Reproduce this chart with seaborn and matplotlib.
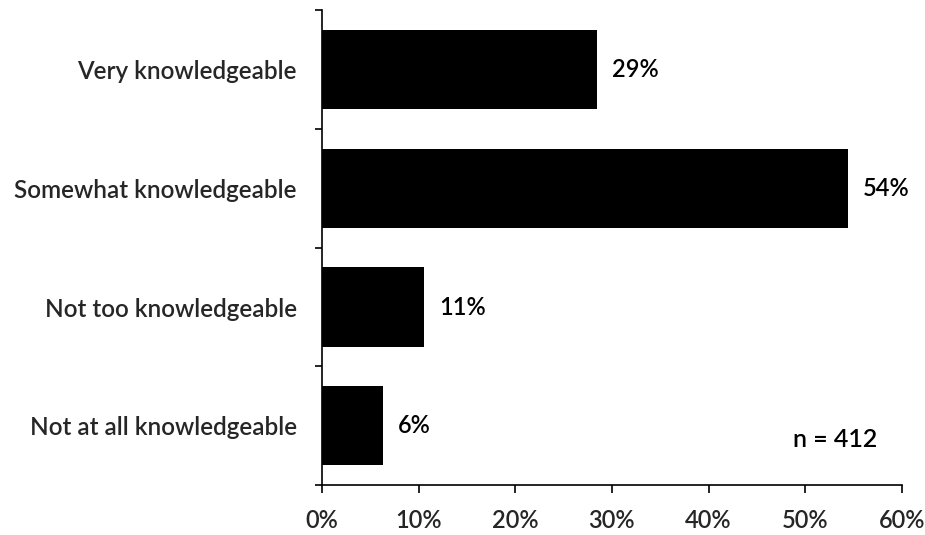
import matplotlib
matplotlib.use("Agg")
import matplotlib.pyplot as plt
import seaborn as sns
import pandas as pd
from matplotlib.ticker import FixedLocator, FuncFormatter

categories = ["Very knowledgeable", "Somewhat knowledgeable", "Not too knowledgeable", "Not at all knowledgeable"]
values = [28.5, 54.4, 10.6, 6.3]
value_labels = ["29%", "54%", "11%", "6%"]
x_ticks = [0, 10, 20, 30, 40, 50, 60]
note = "n = 412"

sns.set_theme(style="white")
plt.rcParams["font.family"] = ["Lato", "DejaVu Sans"]
plt.rcParams["font.weight"] = "semibold"

fig = plt.figure(figsize=(9.25, 5.35), dpi=100)
ax = fig.add_axes([0.348, 0.0935, 0.627, 0.887])

df = pd.DataFrame({"cat": categories, "val": values})
sns.barplot(data=df, x="val", y="cat", orient="h", color="black", width=0.67,
            saturation=1, ax=ax, edgecolor="black", linewidth=0)

ax.set_xlim(0, 60)
ax.set_ylim(3.5, -0.5)
ax.set_xlabel("")
ax.set_ylabel("")

# x axis
ax.set_xticks(x_ticks)
ax.xaxis.set_major_formatter(FuncFormatter(lambda v, p: f"{int(v)}%"))
ax.tick_params(axis="x", which="major", direction="out", length=6, width=1.2,
               color="black", labelsize=17, pad=11, bottom=True)

# y axis: ticks at boundaries, labels at centers
ax.yaxis.set_major_locator(FixedLocator([-0.5, 0.5, 1.5, 2.5, 3.5]))
ax.yaxis.set_major_formatter(FuncFormatter(lambda v, p: ""))
ax.yaxis.set_minor_locator(FixedLocator(list(range(len(categories)))))
ax.set_yticks(range(len(categories)), categories, minor=True)
ax.tick_params(axis="y", which="major", direction="out", length=5, width=1.2, color="black", left=True)
ax.tick_params(axis="y", which="minor", length=0, labelsize=17.5, pad=18, left=True)

for s in ["top", "right"]:
    ax.spines[s].set_visible(False)
for s in ["left", "bottom"]:
    ax.spines[s].set_color("black")
    ax.spines[s].set_linewidth(1.2)

for i, (v, lab) in enumerate(zip(values, value_labels)):
    ax.text(v + 1.55, i, lab, va="center", ha="left", fontsize=17, color="black")

ax.text(0.885, 0.095, note, transform=ax.transAxes, ha="center", va="center", fontsize=18, color="black")

fig.savefig("out.png", dpi=100)
